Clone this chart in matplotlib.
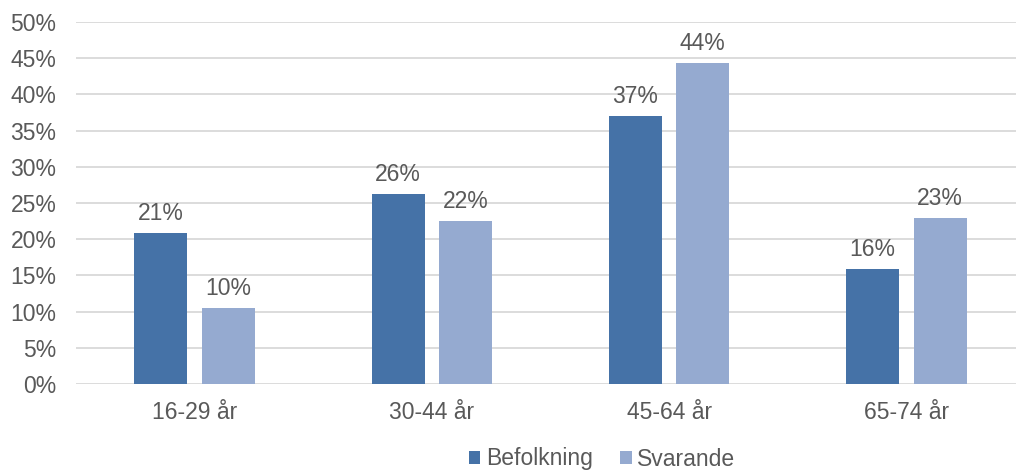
import matplotlib.pyplot as plt
import numpy as np

# age groups and share (%) per group
categories = ["16-29 år", "30-44 år", "45-64 år", "65-74 år"]
befolkning = [20.8, 26.2, 37.0, 15.9]
svarande = [10.5, 22.5, 44.3, 22.9]
yticks = [0, 5, 10, 15, 20, 25, 30, 35, 40, 45, 50]

dark = "#4572A7"
light = "#95AAD0"
grey = "#595959"
fs = 16.5

plt.rcParams['font.family'] = ['Liberation Sans', 'DejaVu Sans']

fig = plt.figure(figsize=(10.16, 4.71), dpi=100)
ax = fig.add_axes([76 / 1016, 1 - 384 / 471, 949 / 1016, 362 / 471])

x = np.arange(len(categories))
w = 0.2235
off = 0.142
b1 = ax.bar(x - off, befolkning, w, color=dark, label="Befolkning", zorder=3)
b2 = ax.bar(x + off, svarande, w, color=light, label="Svarande", zorder=3)

for bars, vals in ((b1, befolkning), (b2, svarande)):
    for rect, v in zip(bars, vals):
        ax.annotate(f"{v:.0f}%", (rect.get_x() + rect.get_width() / 2, v),
                    xytext=(0, 6), textcoords="offset points",
                    ha="center", va="bottom", fontsize=fs, color=grey)

ax.set_xlim(-0.5, len(categories) - 0.5)
ax.set_ylim(0, 50)
ax.set_yticks(yticks)
ax.set_yticklabels([f"{t}%" for t in yticks])
ax.set_xticks(x)
ax.set_xticklabels(categories)
ax.tick_params(axis="y", length=0, pad=14, labelsize=fs, labelcolor=grey)
ax.tick_params(axis="x", length=0, pad=12, labelsize=fs, labelcolor=grey)
ax.yaxis.grid(True, color="#D9D9D9", linewidth=1.3, zorder=0)
for s in ax.spines.values():
    s.set_visible(False)

fig.legend(loc="center", bbox_to_anchor=(602 / 1016, 1 - 459 / 471), ncol=2,
           frameon=False, fontsize=fs, labelcolor=grey,
           handlelength=0.5, handleheight=0.5, handletextpad=0.25,
           columnspacing=1.2)

fig.savefig("out.png", dpi=100)
